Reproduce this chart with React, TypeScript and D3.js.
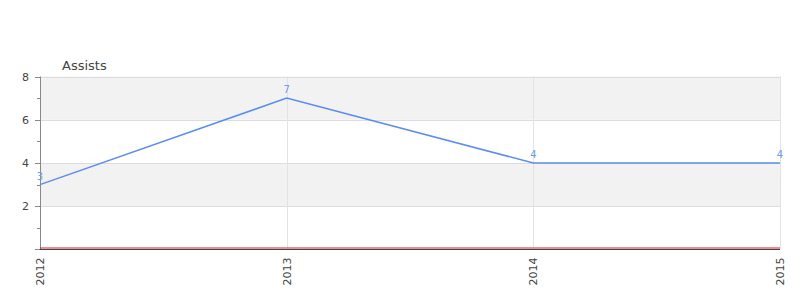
import React from "react";
import * as d3 from "d3";

const years = ["2012", "2013", "2014", "2015"];
const assists = [3, 7, 4, 4];
const zeroSeries = [0, 0, 0, 0];
const yTicks = [2, 4, 6, 8];
const yMinor = [1, 3, 5, 7];
const bands = [[6, 8], [2, 4]];

export default function App() {
  const W = 800, H = 300;
  const left = 40, right = 780, top = 76.5, bottom = 249.5;
  const x = d3.scalePoint<string>().domain(years).range([left, right]);
  const y = d3.scaleLinear().domain([0, 8]).range([bottom, top]);
  const line = d3.line<number>().x((_, i) => x(years[i])!).y((d) => y(d));
  const font = "'DejaVu Sans', sans-serif";
  return (
    <svg width={W} height={H} style={{ position: "absolute", left: 0, top: 0 }}>
      <rect x={0} y={0} width={W} height={H} fill="#fff" />
      {bands.map(([a, b], i) => (
        <rect key={i} x={left} y={y(b)} width={right - left} height={y(a) - y(b)} fill="#f2f2f2" />
      ))}
      {yTicks.map((t) => (
        <line key={t} x1={left} x2={right} y1={Math.round(y(t)) + 0.5} y2={Math.round(y(t)) + 0.5} stroke="#dddddd" />
      ))}
      {years.slice(1).map((yr) => (
        <line key={yr} x1={Math.round(x(yr)!) + 0.5} x2={Math.round(x(yr)!) + 0.5} y1={top} y2={bottom} stroke="#e3e3e3" />
      ))}
      <line x1={left + 0.5} x2={left + 0.5} y1={top} y2={bottom} stroke="#888" />
      {yTicks.map((t) => (
        <g key={t}>
          <line x1={left - 5} x2={left} y1={Math.round(y(t)) + 0.5} y2={Math.round(y(t)) + 0.5} stroke="#888" />
          <text x={left - 11} y={y(t) + 4} textAnchor="end" fontSize={11} fontFamily={font} fill="#444">{t}</text>
        </g>
      ))}
      {yMinor.map((t) => (
        <line key={t} x1={left - 3} x2={left} y1={Math.round(y(t)) + 0.5} y2={Math.round(y(t)) + 0.5} stroke="#888" />
      ))}
      <line x1={left - 5} x2={left} y1={bottom} y2={bottom} stroke="#888" />
      <path d={line(zeroSeries) || ""} fill="none" stroke="#d62020" strokeWidth={1} transform="translate(0,-1.5)" />
      <line x1={left} x2={right} y1={bottom} y2={bottom} stroke="#444" strokeWidth={1.2} />
      <path d={line(assists) || ""} fill="none" stroke="#5b8def" strokeWidth={1.5} />
      {assists.map((v, i) => (
        <text key={i} x={x(years[i])!} y={y(v) - 5} textAnchor="middle" fontSize={10} fontFamily={font} fill="#6f9be6">{v}</text>
      ))}
      {years.map((yr) => (
        <text key={yr} transform={`translate(${x(yr)! + 4},${bottom + 8}) rotate(-90)`} textAnchor="end" fontSize={11} fontFamily={font} fill="#444">{yr}</text>
      ))}
      <text x={62} y={70} fontSize={13} fontFamily={font} fill="#444">Assists</text>
    </svg>
  );
}
